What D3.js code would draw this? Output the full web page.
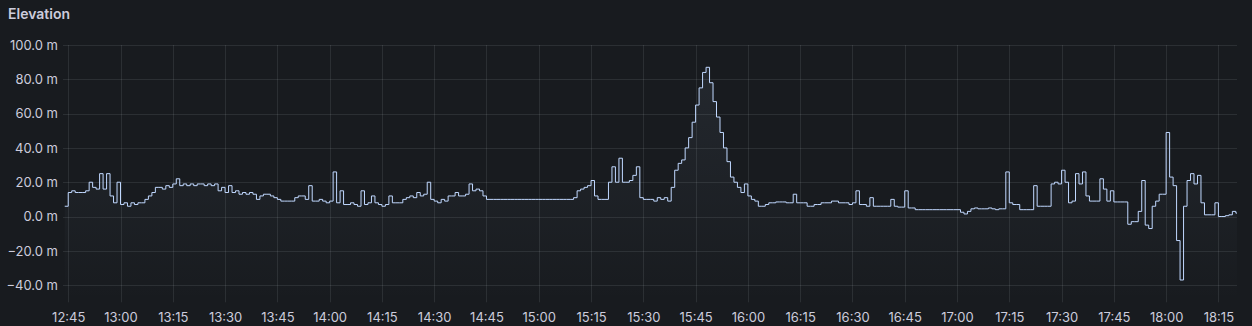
<!DOCTYPE html>
<html>
<head>
<meta charset="utf-8">
<script src="https://cdn.jsdelivr.net/npm/d3@7"></script>
<style>
  html, body { margin: 0; padding: 0; background: #181b1f; }
  body { width: 1252px; height: 326px; overflow: hidden; font-family: Inter, "Noto Sans", sans-serif; }
</style>
</head>
<body>
<div class="js-chart"></div>
<script>
// panel title and axis setup
let panelTitle = 'Elevation';
let startTime = new Date(2024, 0, 1, 12, 44, 0);   // first sample
let stepMinutes = 1;
let domainStart = new Date(2024, 0, 1, 12, 43, 30);
let domainEnd = new Date(2024, 0, 1, 18, 20, 20);
let yTicks = [-40, -20, 0, 20, 40, 60, 80, 100];

// elevation in metres, one sample per minute from 12:44
let elevation = [
  6, 14, 15, 14, 14, 14, 15, 20, 17, 16,
  25, 16, 25, 12, 8, 20, 7, 8, 6, 8,
  7, 8, 8, 10, 12, 14, 17, 17, 16, 18,
  17, 19, 22, 18, 19, 18, 19, 18, 19, 19,
  18, 19, 18, 19, 15, 17, 14, 18, 14, 15,
  13, 14, 13, 14, 13, 10, 12, 13, 13, 12,
  11, 10, 9, 9, 9, 9, 11, 12, 12, 10,
  18, 9, 9, 10, 9, 8, 9, 26, 8, 15,
  7, 7, 8, 7, 6, 15, 7, 8, 12, 8,
  7, 6, 7, 12, 8, 8, 8, 10, 11, 12,
  11, 14, 12, 13, 20, 10, 9, 8, 10, 9,
  12, 12, 14, 12, 12, 13, 19, 15, 16, 15,
  12, 10, 10, 10, 10, 10, 10, 10, 10, 10,
  10, 10, 10, 10, 10, 10, 10, 10, 10, 10,
  10, 10, 10, 10, 10, 10, 11, 15, 16, 17,
  18, 21, 12, 10, 10, 10, 20, 29, 20, 34,
  20, 20, 21, 24, 29, 11, 10, 10, 10, 9,
  11, 10, 11, 9, 17, 27, 31, 33, 40, 46,
  55, 65, 75, 84, 87, 78, 67, 58, 49, 40,
  32, 23, 20, 17, 14, 19, 12, 10, 9, 6,
  6, 7, 8, 8, 8.5, 8.5, 8.5, 8, 8, 13,
  8, 8, 8, 6, 6, 7, 7, 8, 8, 8,
  9, 9, 8, 8, 8, 7, 8, 15, 7, 7,
  6, 11, 6, 6, 6, 6, 6, 10, 6, 5.5,
  5.5, 15, 5, 5, 4, 4, 4, 4, 4, 4,
  4, 4, 4, 4, 4, 4, 4, 2.5, 1.5, 3,
  4.5, 5, 4.5, 4.5, 4.5, 5, 4.5, 4, 4.5, 4.5,
  26, 8, 7, 7, 4, 4, 4, 4, 18, 6,
  6, 6, 6, 19, 20, 19, 27, 20, 8, 9,
  25, 19, 26, 12, 9, 9, 9, 22, 16, 9,
  15, 8.5, 8.5, 8.5, 8.5, -4.5, -3, -3, 3, 21,
  -5, -7, 6, 9, 13, 13, 49, 23, 18, -14,
  -37, 6, 21, 25, 19, 24, 8, 1, 1, 1,
  8, 0, 0, 0.5, 1, 3, 2
];

let w = 1252;
let h = 326;
let margin = {top: 45, right: 15, bottom: 23.7, left: 63};

let svg = d3.select('.js-chart').append('svg').attr('width', w).attr('height', h);

svg.append('text')
  .attr('x', 8)
  .attr('y', 19)
  .attr('fill', '#ccccdc')
  .style('font-size', '14px')
  .style('font-weight', 600)
  .text(panelTitle);

let x = d3.scaleTime().domain([domainStart, domainEnd]).range([margin.left, w - margin.right]);
let y = d3.scaleLinear().domain([-50, 100]).range([h - margin.bottom, margin.top]);

let points = elevation.map((v, i) => ({t: d3.timeMinute.offset(startTime, i * stepMinutes), v: v}));
// hold the last value to the end of the range
points.push({t: domainEnd, v: elevation[elevation.length - 1]});

let gridColor = 'rgba(240,250,255,0.09)';
let xTicks = x.ticks(d3.timeMinute.every(15)).filter(d => d >= domainStart && d <= domainEnd);

// grid
svg.append('g').selectAll('line').data(yTicks).join('line')
  .attr('x1', margin.left).attr('x2', w - margin.right)
  .attr('y1', d => Math.round(y(d)) + 0.5).attr('y2', d => Math.round(y(d)) + 0.5)
  .attr('stroke', gridColor);

svg.append('g').selectAll('line').data(xTicks).join('line')
  .attr('x1', d => Math.round(x(d)) + 0.5).attr('x2', d => Math.round(x(d)) + 0.5)
  .attr('y1', margin.top).attr('y2', h - margin.bottom)
  .attr('stroke', gridColor);

// axes labels
let yAxis = d3.axisLeft(y).tickValues(yTicks).tickSize(0).tickPadding(0)
  .tickFormat(d => d3.format('.1f')(d) + ' m');
svg.append('g')
  .attr('transform', `translate(${margin.left - 5},0)`)
  .call(yAxis)
  .call(g => g.select('.domain').remove())
  .selectAll('text')
  .attr('fill', '#ccccdc')
  .style('font-family', 'Inter, sans-serif')
  .style('font-size', '13px');

let xAxis = d3.axisBottom(x).tickValues(xTicks).tickSize(0).tickPadding(0)
  .tickFormat(d3.timeFormat('%H:%M'));
svg.append('g')
  .attr('transform', `translate(0,${h - margin.bottom + 10.5})`)
  .call(xAxis)
  .call(g => g.select('.domain').remove())
  .selectAll('text')
  .attr('fill', '#ccccdc')
  .style('font-family', 'Inter, sans-serif')
  .style('font-size', '13px');

// faint fill under the series
let defs = svg.append('defs');
let grad = defs.append('linearGradient').attr('id', 'fillGrad')
  .attr('x1', 0).attr('x2', 0).attr('y1', 0).attr('y2', 1);
grad.append('stop').attr('offset', '0%').attr('stop-color', '#C0D8FF').attr('stop-opacity', 0.07);
grad.append('stop').attr('offset', '100%').attr('stop-color', '#C0D8FF').attr('stop-opacity', 0);

defs.append('clipPath').attr('id', 'plotClip').append('rect')
  .attr('x', margin.left).attr('y', margin.top)
  .attr('width', w - margin.left - margin.right).attr('height', h - margin.top - margin.bottom);

let plot = svg.append('g').attr('clip-path', 'url(#plotClip)');

let area = d3.area().curve(d3.curveStepAfter)
  .x(d => x(d.t)).y0(y(-50)).y1(d => y(d.v));
plot.append('path').datum(points)
  .attr('d', area)
  .attr('fill', 'url(#fillGrad)');

let line = d3.line().curve(d3.curveStepAfter)
  .x(d => x(d.t)).y(d => y(d.v));
plot.append('path').datum(points)
  .attr('d', line)
  .attr('fill', 'none')
  .attr('stroke', '#C0D8FF')
  .attr('stroke-width', 1);
</script>
</body>
</html>
